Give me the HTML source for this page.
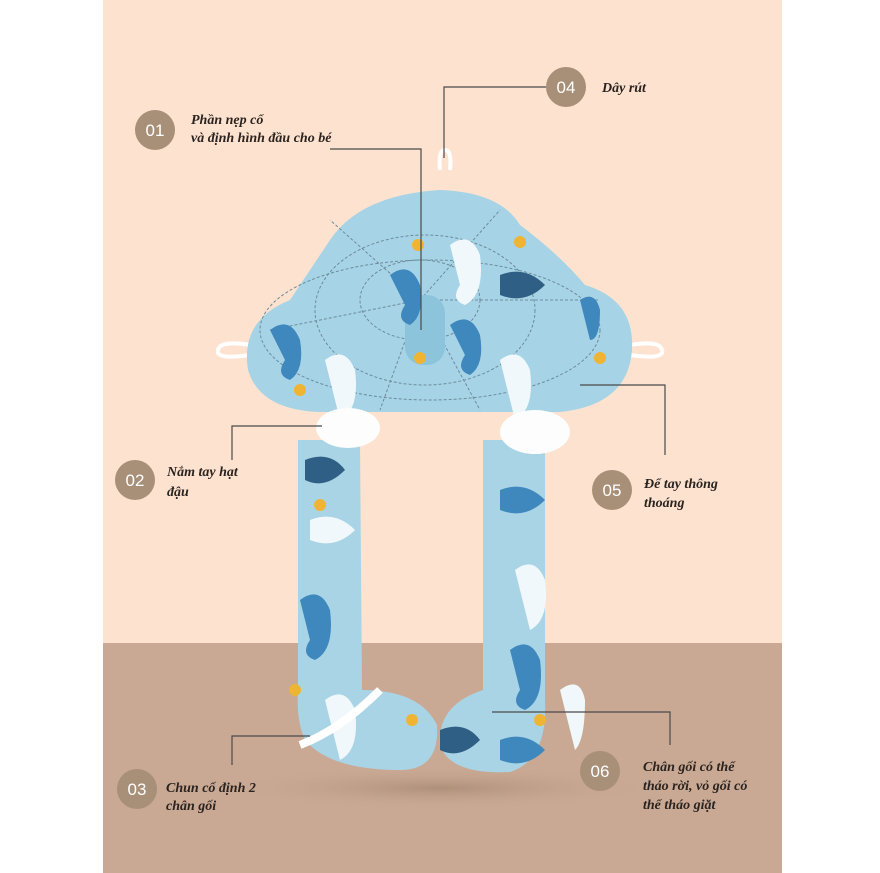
<!DOCTYPE html>
<html><head><meta charset="utf-8"><style>
body{margin:0;width:880px;height:873px;background:#fff;overflow:hidden}
svg{display:block}
text{font-family:"Liberation Serif",serif;font-style:italic;font-weight:bold;font-size:14px;fill:#2a2320}
.n{font-family:"Liberation Sans",sans-serif;font-style:normal;font-weight:normal;font-size:17px;fill:#fff}
</style></head><body>
<svg width="880" height="873" viewBox="0 0 880 873">
<defs>
<radialGradient id="sh" cx="50%" cy="50%" r="50%"><stop offset="0" stop-color="#9d7f68" stop-opacity=".6"/><stop offset="1" stop-color="#c8a892" stop-opacity="0"/></radialGradient>
</defs>
<rect x="103" y="0" width="679" height="643" fill="#fde3cf"/>
<rect x="103" y="643" width="679" height="230" fill="#c9a993"/>
<ellipse cx="440" cy="788" rx="220" ry="22" fill="url(#sh)"/>
<path d="M440 170 Q438 150 445 150 Q452 150 450 170" fill="none" stroke="#fff" stroke-width="4"/>
<path d="M250 355 Q215 360 218 350 Q220 340 250 345" fill="none" stroke="#fff" stroke-width="4"/>
<path d="M630 355 Q665 360 662 350 Q660 340 630 345" fill="none" stroke="#fff" stroke-width="4"/>
<path d="M298 440 L360 440 L362 690 Q420 690 437 725 Q440 770 400 770 Q330 770 305 740 Q296 720 298 690 Z" fill="#a9d4e6"/>
<path d="M483 440 L545 440 L545 700 Q548 760 510 772 Q450 775 440 745 Q437 705 483 690 Z" fill="#a9d4e6"/>
<path d="M320 412 Q260 410 248 370 Q240 320 290 300 Q310 270 330 240 Q360 195 440 190 Q500 192 520 225 Q560 255 585 285 Q635 300 632 350 Q628 405 560 412 Z" fill="#a6d3e6"/>
<g fill="none" stroke="#6d8c9c" stroke-width="1" stroke-dasharray="3 2">
<ellipse cx="420" cy="300" rx="60" ry="40"/><ellipse cx="425" cy="310" rx="110" ry="75"/><ellipse cx="430" cy="330" rx="170" ry="70"/>
<path d="M420 300 L330 220 M420 300 L500 210 M420 300 L600 300 M420 300 L270 330 M420 300 L380 410 M420 300 L480 410"/>
</g>
<rect x="405" y="295" width="40" height="70" rx="18" fill="#8cc4dc"/>
<g fill="#3f88bd">
<path d="M270 330 q20 -15 30 10 q5 30 -10 40 q-15 -5 -5 -20z"/><path d="M390 275 q20 -15 30 10 q5 30 -10 40 q-15 -5 -5 -20z"/>
<path d="M450 325 q20 -15 30 10 q5 30 -10 40 q-15 -5 -5 -20z"/><path d="M580 300 q15 -10 20 10 q0 30 -10 30z"/>
<path d="M500 490 q25 -10 45 10 q-20 20 -45 10z"/><path d="M510 650 q20 -15 30 10 q5 40 -15 50 q-15 -5 -5 -20z"/>
<path d="M300 600 q20 -15 30 10 q5 40 -15 50 q-15 -5 -5 -20z"/><path d="M500 740 q25 -10 45 10 q-20 20 -45 10z"/>
</g>
<g fill="#f1f8fb">
<path d="M450 245 q20 -15 30 10 q5 40 -15 50 q-15 -5 -5 -20z"/><path d="M325 360 q20 -15 30 10 q5 40 -15 50z"/>
<path d="M500 360 q20 -15 30 10 q5 40 -15 50z"/><path d="M515 570 q20 -15 30 10 q5 40 -15 50z"/>
<path d="M325 700 q20 -15 30 10 q5 40 -15 50z"/><path d="M560 690 q20 -15 25 10 q0 40 -10 50z"/>
<path d="M310 520 q25 -10 45 10 q-20 20 -45 10z"/>
</g>
<g fill="#2f5f84"><path d="M500 275 q25 -10 45 10 q-20 20 -45 10z"/><path d="M305 460 q25 -10 40 10 q-20 20 -40 10z"/><path d="M440 730 q25 -10 40 10 q-20 20 -40 10z"/></g>
<g fill="#f0b435"><circle cx="418" cy="245" r="6"/><circle cx="520" cy="242" r="6"/><circle cx="600" cy="358" r="6"/><circle cx="300" cy="390" r="6"/><circle cx="420" cy="358" r="6"/><circle cx="320" cy="505" r="6"/><circle cx="295" cy="690" r="6"/><circle cx="412" cy="720" r="6"/><circle cx="540" cy="720" r="6"/></g>
<ellipse cx="348" cy="428" rx="32" ry="20" fill="#fdfdfd"/><ellipse cx="535" cy="432" rx="35" ry="22" fill="#fdfdfd"/>
<path d="M300 745 Q340 730 380 690" stroke="#fff" stroke-width="8" fill="none"/>
<g stroke="#4a4a4a" stroke-width="1.2" fill="none">
<path d="M546 87 H444 V158"/><path d="M330 149 H421 V330"/><path d="M232 460 V426 H322"/>
<path d="M232 765 V736 H310"/><path d="M580 385 H665 V455"/><path d="M492 712 H670 V745"/>
</g>
<g fill="#a88f78"><circle cx="155" cy="130" r="20"/><circle cx="566" cy="87" r="20"/><circle cx="135" cy="480" r="20"/><circle cx="612" cy="490" r="20"/><circle cx="137" cy="789" r="20"/><circle cx="600" cy="771" r="20"/></g>
<text class="n" x="155" y="136" text-anchor="middle">01</text>
<text class="n" x="566" y="93" text-anchor="middle">04</text>
<text class="n" x="135" y="486" text-anchor="middle">02</text>
<text class="n" x="612" y="496" text-anchor="middle">05</text>
<text class="n" x="137" y="795" text-anchor="middle">03</text>
<text class="n" x="600" y="777" text-anchor="middle">06</text>
<text x="191" y="124">Phần nẹp cổ</text>
<text x="191" y="142">và định hình đầu cho bé</text>
<text x="602" y="92">Dây rút</text>
<text x="167" y="476">Nắm tay hạt</text>
<text x="167" y="496">đậu</text>
<text x="644" y="488">Để tay thông</text>
<text x="644" y="507">thoáng</text>
<text x="166" y="792">Chun cố định 2</text>
<text x="166" y="810">chân gối</text>
<text x="643" y="771">Chân gối có thể</text>
<text x="643" y="790">tháo rời, vỏ gối có</text>
<text x="643" y="809">thể tháo giặt</text>
</svg>
</body></html>
